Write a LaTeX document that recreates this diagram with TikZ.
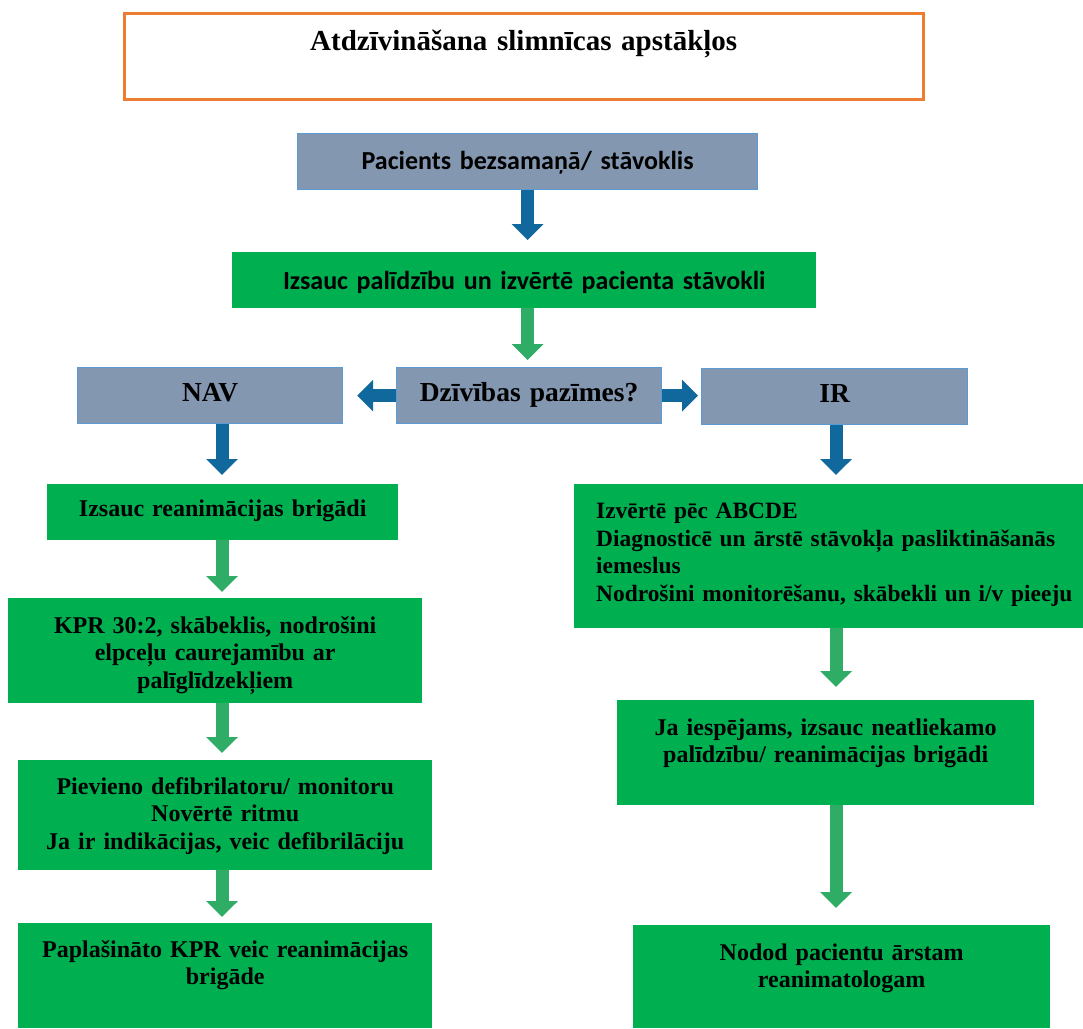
\documentclass[tikz,border=0pt]{standalone}
\usepackage{fontspec}
\setmainfont[WordSpace=0.8]{Liberation Serif}
\newfontfamily\calibri{Carlito}
\usetikzlibrary{arrows.meta}
\usepackage{xcolor}

\definecolor{titleorange}{RGB}{237,125,49}
\definecolor{boxgrey}{RGB}{132,151,176}
\definecolor{boxedge}{RGB}{91,155,213}
\definecolor{boxgreen}{RGB}{0,176,80}
\definecolor{arrowblue}{RGB}{16,104,156}
\definecolor{arrowgreen}{RGB}{47,172,102}

\begin{document}
\begin{tikzpicture}[x=1pt, y=-1pt,
  box/.style={rectangle, anchor=north west, inner xsep=6pt, inner ysep=0pt, align=center},
  titlebox/.style={box, draw=titleorange, line width=2.5pt, font=\fontsize{29}{33}\selectfont\bfseries},
  greybox/.style={box, fill=boxgrey, draw=boxedge, line width=1.2pt, font=\fontsize{27.5}{31}\selectfont\bfseries},
  greenbox/.style={box, fill=boxgreen, font=\fontsize{24}{27.6}\selectfont\bfseries},
  calbox/.style={font=\calibri\fontsize{26}{30}\selectfont\bfseries},
  bluearrow/.style={line width=13pt, draw=arrowblue, -{Triangle[width=31pt,length=16pt]}},
  greenarrow/.style={bluearrow, draw=arrowgreen}
]
\useasboundingbox (0,0) rectangle (1083,1028);
\clip (0,0) rectangle (1083,1028);
\coordinate (lcol) at (222,0);
\coordinate (rcol) at (836,0);

\node[titlebox, text width=787pt, text height=37pt, text depth=49pt] (title) at (123,12) {Atdzīvināšana slimnīcas apstākļos};

\node[greybox, calbox, text width=448pt, text height=36pt, text depth=20pt] (pac) at (297,133) {Pacients bezsamaņā/ stāvoklis};
\node[greenbox, calbox, text width=572pt, text height=37pt, text depth=19pt] (izs) at (232,252) {Izsauc palīdzību un izvērtē pacienta stāvokli};

\node[greybox, text width=253pt, text height=34pt, text depth=22pt] (dzv) at (396,367) {Dzīvības pazīmes?};
\node[greybox, text width=253pt, text height=34pt, text depth=22pt] (nav) at (77,367) {NAV};
\node[greybox, text width=254pt, text height=34pt, text depth=22pt] (ir) at (701,368) {IR};

% kreisā puse
\node[greenbox, text width=339pt, text height=32pt, text depth=24pt] (reb) at (47,484) {Izsauc reanimācijas brigādi};
\node[greenbox, text width=402pt, text height=35pt, text depth=70pt] (kpr) at (8,598) {KPR 30:2, skābeklis, nodrošini\\elpceļu caurejamību ar\\palīglīdzekļiem};
\node[greenbox, text width=402pt, text height=34pt, text depth=76pt] (def) at (18,760) {Pievieno defibrilatoru/ monitoru\\Novērtē ritmu\\Ja ir indikācijas, veic defibrilāciju};
\node[greenbox, text width=402pt, text height=34pt, text depth=71pt] (ppl) at (18,923) {Paplašināto KPR veic reanimācijas\\brigāde};

% labā puse
\node[greenbox, align=left, inner xsep=22pt, text width=520pt, text height=34pt, text depth=110pt, font=\fontsize{23.4}{27.8}\selectfont\bfseries] (abc) at (574,484) {Izvērtē pēc ABCDE\\Diagnosticē un ārstē stāvokļa pasliktināšanās\\iemeslus\\Nodrošini monitorēšanu, skābekli un i/v pieeju};
\node[greenbox, text width=405pt, text height=35pt, text depth=70pt] (jai) at (617,700) {Ja iespējams, izsauc neatliekamo\\palīdzību/ reanimācijas brigādi};
\node[greenbox, text width=405pt, text height=35pt, text depth=68pt] (nod) at (633,925) {Nodod pacientu ārstam\\reanimatologam};

\draw[bluearrow, shorten >=12pt] (pac.south) -- (pac.south |- izs.north);
\draw[greenarrow, shorten >=7pt] (pac.south |- izs.south) -- (pac.south |- dzv.north);
\draw[bluearrow, shorten >=14pt] (dzv.west) -- (nav.east |- dzv.west);
\draw[bluearrow, shorten >=3pt] (dzv.east) -- (ir.west |- dzv.east);
\draw[bluearrow, shorten >=9pt] (lcol |- nav.south) -- (lcol |- reb.north);
\draw[bluearrow, shorten >=9pt] (rcol |- ir.south) -- (rcol |- abc.north);
\draw[greenarrow, shorten >=6pt] (lcol |- reb.south) -- (lcol |- kpr.north);
\draw[greenarrow, shorten >=7pt] (lcol |- kpr.south) -- (lcol |- def.north);
\draw[greenarrow, shorten >=6pt] (lcol |- def.south) -- (lcol |- ppl.north);
\draw[greenarrow, shorten >=13pt] (rcol |- abc.south) -- (rcol |- jai.north);
\draw[greenarrow, shorten >=17pt] (rcol |- jai.south) -- (rcol |- nod.north);
\end{tikzpicture}
\end{document}
